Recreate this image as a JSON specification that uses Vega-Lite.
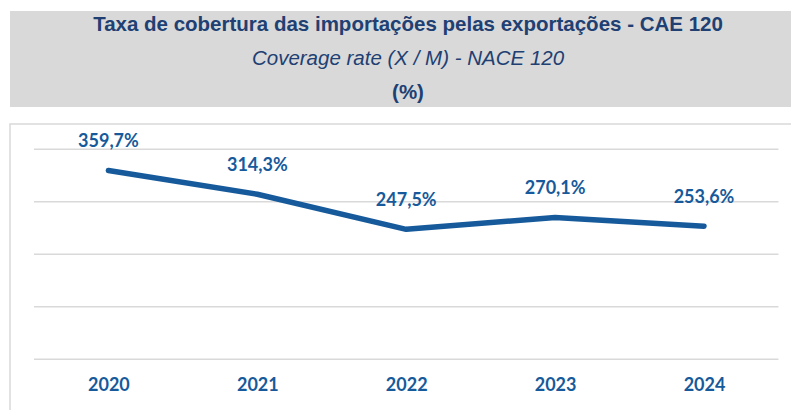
{
  "$schema": "https://vega.github.io/schema/vega-lite/v6.json",
  "padding": {"left": 9, "top": 11, "right": 0, "bottom": 0},
  "background": "white",
  "spacing": 16,
  "config": {"font": "Lato"},
  "vconcat": [
    {
      "width": 782,
      "height": 96,
      "view": {"fill": "#d9d9d9", "stroke": null},
      "data": {"values": [
        {"line": 1, "text": "Taxa de cobertura das importações pelas exportações - CAE 120"},
        {"line": 2, "text": "Coverage rate (X / M) - NACE 120"},
        {"line": 3, "text": "(%)"}
      ]},
      "encoding": {
        "y": {"field": "line", "type": "ordinal", "axis": null, "scale": {"type": "point", "padding": 0.41}},
        "text": {"field": "text"}
      },
      "layer": [
        {"transform": [{"filter": "datum.line == 1"}], "mark": {"type": "text", "font": "Liberation Sans", "fontWeight": "bold", "fontSize": 20.5, "color": "#203f73", "dx": 7, "baseline": "middle"}},
        {"transform": [{"filter": "datum.line == 2"}], "mark": {"type": "text", "font": "Liberation Sans", "fontStyle": "italic", "fontSize": 20.5, "color": "#203f73", "dx": 7, "baseline": "middle"}},
        {"transform": [{"filter": "datum.line == 3"}], "mark": {"type": "text", "font": "Liberation Sans", "fontWeight": "bold", "fontSize": 20.5, "color": "#203f73", "dx": 7, "baseline": "middle"}}
      ]
    },
    {
      "width": 782,
      "height": 290,
      "view": {"stroke": "#d9d9d9", "strokeWidth": 1.5},
      "layer": [
        {
          "data": {"values": [{"g": 0}, {"g": 100}, {"g": 200}, {"g": 300}, {"g": 400}]},
          "mark": {"type": "rule", "color": "#d9d9d9", "strokeWidth": 1.5},
          "encoding": {
            "x": {"datum": 2019.5, "type": "quantitative", "scale": {"domain": [2019.339, 2024.591], "nice": false, "zero": false}},
            "x2": {"datum": 2024.5},
            "y": {"field": "g", "type": "quantitative", "scale": {"domain": [-104.2, 448.2], "nice": false, "zero": false}, "axis": null}
          }
        },
        {
          "data": {"values": [
            {"year": 2020, "value": 359.7, "label": "359,7%"},
            {"year": 2021, "value": 314.3, "label": "314,3%"},
            {"year": 2022, "value": 247.5, "label": "247,5%"},
            {"year": 2023, "value": 270.1, "label": "270,1%"},
            {"year": 2024, "value": 253.6, "label": "253,6%"}
          ]},
          "encoding": {
            "x": {"field": "year", "type": "quantitative", "scale": {"domain": [2019.339, 2024.591], "nice": false, "zero": false},
              "axis": {"values": [2020, 2021, 2022, 2023, 2024], "format": "d", "title": null, "domain": false, "ticks": false, "grid": false,
                "labelFont": "Lato", "labelFontWeight": "bold", "labelFontSize": 18, "labelColor": "#165a9b", "labelBaseline": "middle", "labelPadding": 0, "offset": -28.5, "labelFlush": false}},
            "y": {"field": "value", "type": "quantitative", "scale": {"domain": [-104.2, 448.2], "nice": false, "zero": false}, "axis": null}
          },
          "layer": [
            {"mark": {"type": "line", "color": "#165a9b", "strokeWidth": 5.5, "strokeCap": "round", "strokeJoin": "round"}},
            {"mark": {"type": "text", "font": "Lato", "fontWeight": "bold", "fontSize": 18, "color": "#165a9b", "baseline": "middle", "dy": -28}, "encoding": {"text": {"field": "label"}}}
          ]
        }
      ]
    }
  ]
}
